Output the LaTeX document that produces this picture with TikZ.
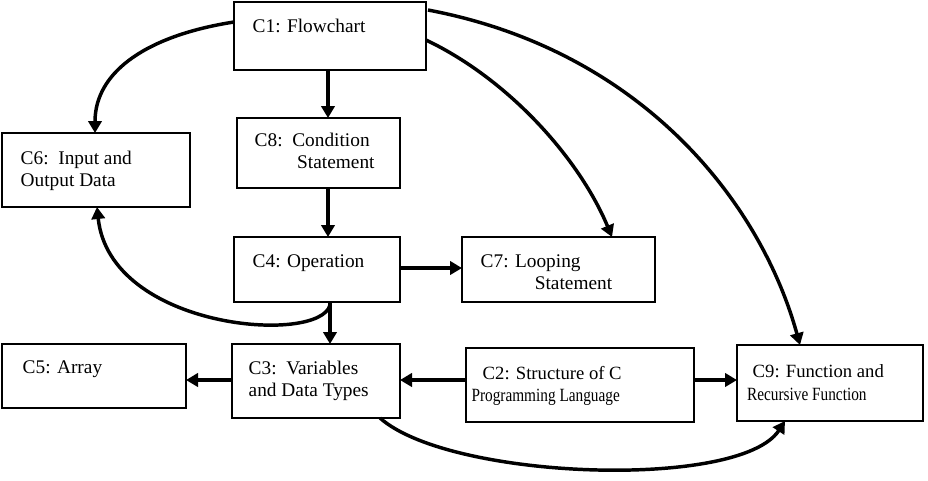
\documentclass[tikz,border=0pt]{standalone}
\usepackage{fontspec}
\setmainfont{Liberation Serif}
\usetikzlibrary{arrows.meta}
\begin{document}
\begin{tikzpicture}[x=0.75pt,y=-0.75pt,
 box/.style={draw,line width=1pt,inner sep=0pt},
 lbl/.style={font=\fontsize{14.5}{16.5}\selectfont,align=left,anchor=north west},
 arr/.style={line width=2.6pt,-{Triangle[length=9pt,width=10pt]}}]
\useasboundingbox (0,0) rectangle (928,480);
\draw[box] (234,2) rectangle (426,70) coordinate (c1);
\node[lbl] (t1) at (248,14) {C1: Flowchart};
\draw[box] (237,118) rectangle (400,188);
\node[lbl] (t8) at (250,128) {C8:\ \ Condition\\\hspace{2.2em}Statement};
\draw[box] (2,133) rectangle (190,207);
\node[lbl] (t6) at (16,146) {C6:\ \ Input and\\Output Data};
\draw[box] (234,237) rectangle (400,302);
\node[lbl] (t4) at (248,250) {C4: Operation};
\draw[box] (462,237) rectangle (655,302);
\node[lbl] (t7) at (476,250) {C7: Looping\\\hspace{2.8em}Statement};
\draw[box] (2,344) rectangle (186,408);
\node[lbl] (t5) at (18,356) {C5: Array};
\draw[box] (232,344) rectangle (400,418);
\node[lbl] (t3) at (244,356) {C3:\ \ Variables\\and Data Types};
\draw[box] (466,348) rectangle (694,422);
\node[lbl,font=\fontsize{14}{17}\selectfont] (t2) at (478,362) {C2: Structure of C\\[-1pt]\hspace{-0.6em}\scalebox{0.82}[1]{Programming Language}};
\draw[box] (737,345) rectangle (923,421);
\node[lbl,font=\fontsize{14}{17}\selectfont] (t9) at (748,360) {C9: Function and\\\hspace{-0.3em}\scalebox{0.82}[1]{Recursive Function}};
\coordinate (a1) at (328,70); \coordinate (b1) at (328,118);
\draw[arr] (a1) -- (b1);
\coordinate (a2) at (328,188); \coordinate (b2) at (328,237);
\draw[arr] (a2) -- (b2);
\coordinate (a3) at (400,268); \coordinate (b3) at (462,268);
\draw[arr] (a3) -- (b3);
\coordinate (a4) at (330,302); \coordinate (b4) at (330,344);
\draw[arr] (a4) -- (b4);
\coordinate (a5) at (232,380); \coordinate (b5) at (186,380);
\draw[arr] (a5) -- (b5);
\coordinate (a6) at (466,380); \coordinate (b6) at (400,380);
\draw[arr] (a6) -- (b6);
\coordinate (a7) at (694,380); \coordinate (b7) at (737,380);
\draw[arr] (a7) -- (b7);
\coordinate (p1) at (234,22); \coordinate (q1) at (95,133);
\draw[arr] (p1) .. controls (150,35) and (95,70) .. (q1);
\coordinate (p2) at (330,305); \coordinate (q2) at (97,207);
\draw[arr] (p2) .. controls (320,345) and (110,330) .. (q2);
\coordinate (p3) at (426,40); \coordinate (q3) at (612,237);
\draw[arr] (p3) .. controls (510,80) and (580,160) .. (q3);
\coordinate (p4) at (428,10); \coordinate (q4) at (800,345);
\draw[arr] (p4) .. controls (640,50) and (760,200) .. (q4);
\coordinate (p5) at (380,418); \coordinate (q5) at (785,421);
\draw[arr] (p5) .. controls (450,480) and (740,490) .. (q5);
\end{tikzpicture}
\end{document}
